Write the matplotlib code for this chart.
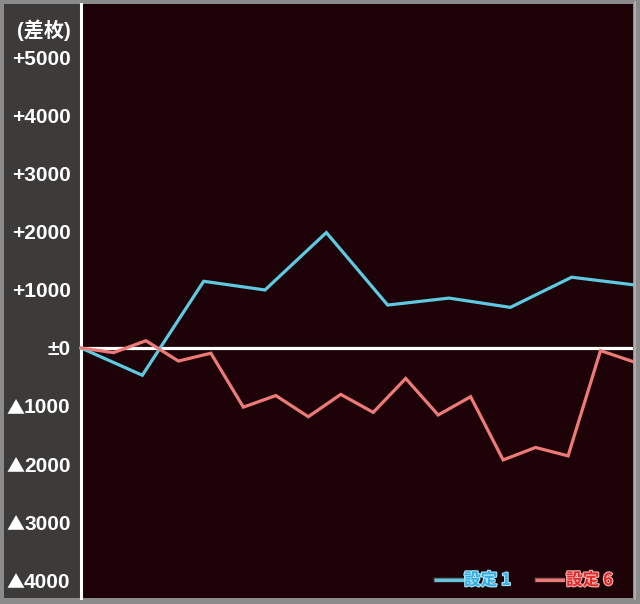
import numpy as np
import matplotlib
matplotlib.use("Agg")
import matplotlib.pyplot as plt
from matplotlib.patches import Rectangle
from matplotlib.lines import Line2D
import matplotlib.patheffects as pe
import matplotlib.transforms as mtransforms

plt.rcParams['font.family'] = ['Noto Sans CJK JP', 'DejaVu Sans']
LABEL_FONT = ['Liberation Sans', 'Noto Sans CJK JP', 'DejaVu Sans']

# ---- data ----
series_names = ["設定1", "設定6"]
setting1_values = [0, -470, 1150, 1000, 1990, 740, 860, 700, 1220, 1090]
setting6_values = [0, -80, 125, -225, -90, -1020, -820, -1185, -800, -1110,
                   -525, -1155, -840, -1930, -1715, -1860, -45, -235]
ytick_values = [-4000, -3000, -2000, -1000, 0, 1000, 2000, 3000, 4000, 5000]
ytick_labels = ["▲4000", "▲3000", "▲2000", "▲1000", "±0",
                "+1000", "+2000", "+3000", "+4000", "+5000"]
unit_label = "(差枚)"

W, H = 640, 604
fig = plt.figure(figsize=(W / 100, H / 100), dpi=100, facecolor="#8b8b8b")

def fx(px):
    return px / W

def fy(py):
    return 1 - py / H

# left label panel
fig.add_artist(Rectangle((fx(4), fy(598)), fx(76), (598 - 4) / H,
                         transform=fig.transFigure, facecolor="#3d3b39",
                         edgecolor="none", zorder=-5))

ax = fig.add_axes([fx(81), fy(598), fx(633 - 81), (598 - 4) / H])
ax.set_zorder(1)
ax.set_facecolor("#1d0307")

n6 = len(setting6_values)
x6 = np.arange(n6)
x1 = np.linspace(0, n6 - 1, len(setting1_values))

ax.set_xlim(0, n6 - 1)
ax.set_ylim(-4310, 5930)

ax.axhline(0, color="white", lw=2.3, zorder=2)
ax.plot(x1, setting1_values, color="#5fc9e2", lw=2.3, zorder=3, clip_on=False,
        solid_joinstyle="miter")
ax.plot(x6, setting6_values, color="#ee7a78", lw=2.3, zorder=3, clip_on=False,
        solid_joinstyle="miter")

for s in ["top", "right", "bottom"]:
    ax.spines[s].set_visible(False)
ax.spines["left"].set_color("white")
ax.spines["left"].set_linewidth(2.2)

# tick labels: the triangle prefix is drawn with the CJK font (large glyph)
tick_main = [lab[1:] if lab.startswith("▲") else lab for lab in ytick_labels]
ax.set_xticks([])
ax.set_yticks(ytick_values)
ax.set_yticklabels(tick_main)
ax.tick_params(axis="y", length=0, pad=7.5, labelcolor="white")
for t in ax.get_yticklabels():
    t.set_fontweight("bold")
    t.set_fontfamily(LABEL_FONT)
    t.set_fontsize(15)

tri_trans = mtransforms.blended_transform_factory(fig.transFigure, ax.transData)
for v, lab in zip(ytick_values, ytick_labels):
    if lab.startswith("▲"):
        ax.text(fx(24.5), v, "▲",
                transform=tri_trans + mtransforms.ScaledTranslation(0, -3.0 / 100, fig.dpi_scale_trans),
                ha="right", va="center", color="white", fontsize=13,
                family=['Noto Sans CJK JP', 'DejaVu Sans'], clip_on=False)

fig.text(fx(71), fy(30), unit_label, ha="right", va="center", color="white",
         fontsize=14.5, fontweight="bold", zorder=5, family=LABEL_FONT)

# right edge light line
fig.add_artist(Line2D([fx(634.5), fx(634.5)], [fy(2), fy(599)], color="#b5b5b5",
                      lw=1.2, transform=fig.transFigure, zorder=5))

# legend
leg = [(series_names[0], "#5fc9e2", "#36aee6", "#a9e4f6", 436, 462, 464),
       (series_names[1], "#ee7a78", "#e02a2a", "#f5b3b0", 537, 563, 566)]
for name, lc, tc, gc, x0, x1_, tx in leg:
    fig.add_artist(Line2D([fx(x0), fx(x1_)], [fy(579.5), fy(579.5)], color=lc,
                          lw=2.2, transform=fig.transFigure, zorder=6,
                          path_effects=[pe.Stroke(linewidth=3.2, foreground=gc, alpha=0.5), pe.Normal()]))
    label = name[:-1] + " " + name[-1]
    fig.text(fx(tx), fy(580), label, ha="left", va="center", color=tc,
             fontsize=12, fontweight="bold", zorder=6,
             path_effects=[pe.Stroke(linewidth=1.6, foreground=gc), pe.Normal()])

fig.savefig("out.png", dpi=100, facecolor=fig.get_facecolor())
